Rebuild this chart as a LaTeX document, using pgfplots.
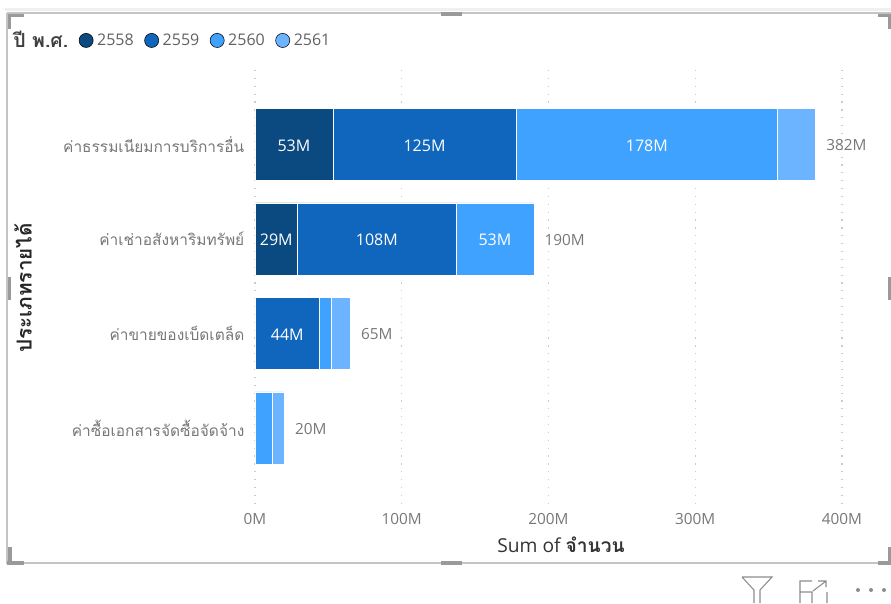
\documentclass[border=0pt]{standalone}
\usepackage{pgfplots}
\usepackage{pgfplotstable}
\pgfplotsset{compat=1.18}
\usepackage{fontspec}
\setmainfont{Open Sans}
\newfontfamily\thai[Script=Thai]{Loma}
\definecolor{cA}{HTML}{0A4A80}
\definecolor{cB}{HTML}{1066BD}
\definecolor{cC}{HTML}{3FA2FF}
\definecolor{cD}{HTML}{6CB4FF}
\definecolor{tk}{HTML}{777777}
\definecolor{fr}{HTML}{C4C4C4}
\definecolor{hd}{HTML}{9A9A9A}
\begin{document}
\begin{tikzpicture}[x=0.75pt,y=-0.75pt]
\path[use as bounding box] (0,0) rectangle (891,603);
% visual frame
\fill[black!6] (5,8) rectangle (891,11);
\draw[fr,line width=1.1pt] (7,13) -- (891,13);
\draw[fr,line width=1.1pt] (7,13) -- (7,563) -- (891,563);
\fill[hd] (8,14) rectangle (24,17);
\fill[hd] (8,14) rectangle (11,29);
\fill[hd] (7,561) rectangle (24,565);
\fill[hd] (8,547) rectangle (12,565);
\fill[hd] (441,12) rectangle (462,16);
\fill[hd] (441,561) rectangle (462,565);
\fill[hd] (8,277) rectangle (11,300);
\fill[hd] (888,277) rectangle (891,300);
\fill[hd] (878,561) rectangle (891,565);
\fill[hd] (888,547) rectangle (891,565);
\fill[hd] (878,14) rectangle (891,17);
\fill[hd] (888,14) rectangle (891,29);
% icons
\draw[black!45,line width=0.8pt] (742,577) -- (772,577) -- (760,590) -- (760,603) (754,603) -- (754,590) -- (742,577);
\draw[black!45,line width=0.8pt] (812,581) -- (800,581) -- (800,603) (800,592) -- (812,592) -- (812,603) (827,592) -- (827,603)
 (813,591) -- (826,581) (818,581) -- (826,581) -- (826,587);
\fill[black!45] (858,590) circle (2) (871,590) circle (2) (884,590) circle (2);

\begin{axis}[
  at={(191.25pt,-378.75pt)},anchor=south west,
  scale only axis,width=440.25pt,height=326.25pt,
  xbar stacked,bar width=54pt,
  xmin=0,xmax=400,
  ymin=-0.788,ymax=3.815,y dir=reverse,
  xtick={0,100,200,300,400},
  xticklabels={0M,100M,200M,300M,400M},
  ytick={0,1,2,3},
  yticklabels={{\thai\fontsize{11.6}{13}\selectfont ค่าธรรมเนียมการบริการอื่น},{\thai\fontsize{11.6}{13}\selectfont ค่าเช่าอสังหาริมทรัพย์},{\thai\fontsize{11.6}{13}\selectfont ค่าขายของเบ็ดเตล็ด},{\thai\fontsize{11.6}{13}\selectfont ค่าซื้อเอกสารจัดซื้อจัดจ้าง}},
  xmajorgrids,
  grid style={dash pattern=on 0.9pt off 5pt,black!20,line width=0.8pt},
  axis line style={draw=none},
  major tick length=0pt,
  tick label style={font=\fontsize{11.5}{13}\selectfont,text=tk},
  xticklabel style={yshift=-3pt},
  yticklabel style={xshift=-4.5pt},
  clip=false,
]
\addplot[fill=cA,draw=white,line width=0.3pt] coordinates {(53,0) (29,1) (0,2) (0,3)};
\addplot[fill=cB,draw=white,line width=0.3pt] coordinates {(125,0) (108,1) (44,2) (0,3)};
\addplot[fill=cC,draw=white,line width=0.3pt] coordinates {(178,0) (53,1) (8,2) (12,3)};
\addplot[fill=cD,draw=white,line width=0.3pt] coordinates {(26,0) (0,1) (13,2) (8,3)};
\end{axis}

\begin{axis}[
  at={(191.25pt,-378.75pt)},anchor=south west,
  scale only axis,width=440.25pt,height=326.25pt,
  xmin=0,xmax=400,
  ymin=-0.788,ymax=3.815,y dir=reverse,
  hide axis,
  clip=false,
  legend columns=5,
  legend cell align=left,
  legend style={draw=none,fill=none,anchor=west,
    at={(axis description cs:-0.4185,1.068)},
    font=\fontsize{12}{14}\selectfont,text=black!62,inner sep=0pt,
    /tikz/every even column/.append style={column sep=5.9pt},
    column sep=0.8pt},
  legend image code/.code={\fill[#1] (0.24cm,0cm) circle (5.3pt);},
]
\addlegendimage{empty legend}
\addlegendentry{\textcolor{black!75}{\thai\bfseries\fontsize{14.6}{14}\selectfont ปี พ.ศ.}}
\addlegendimage{fill=cA}\addlegendentry{2558}
\addlegendimage{fill=cB}\addlegendentry{2559}
\addlegendimage{fill=cC}\addlegendentry{2560}
\addlegendimage{fill=cD}\addlegendentry{2561}
% inside labels
\addplot[draw=none,mark=none,forget plot,nodes near coords,point meta=explicit symbolic,
  nodes near coords align=center,
  every node near coord/.append style={font=\fontsize{12}{14}\selectfont,text=white,anchor=center,yshift=-0.7pt}]
  table[meta=l] {
x y l
26.5 0 53M
115.5 0 125M
267 0 178M
14.5 1 29M
83 1 108M
163.5 1 53M
22 2 44M
};
% totals
\addplot[draw=none,mark=none,forget plot,nodes near coords,point meta=explicit symbolic,
  every node near coord/.append style={font=\fontsize{11.5}{13}\selectfont,text=tk,anchor=west,xshift=4.5pt,yshift=-0.7pt}]
  table[meta=l] {
x y l
382 0 382M
190 1 190M
65 2 65M
20 3 20M
};
\end{axis}
\node[font=\fontsize{14.4}{15}\selectfont,text=black!80] at (561,545) {Sum of {\thai\bfseries จำนวน}};
\node[font=\thai\bfseries\fontsize{15.5}{17}\selectfont,text=black!85,rotate=90] at (23,288) {ประเภทรายได้};
\end{tikzpicture}
\end{document}
